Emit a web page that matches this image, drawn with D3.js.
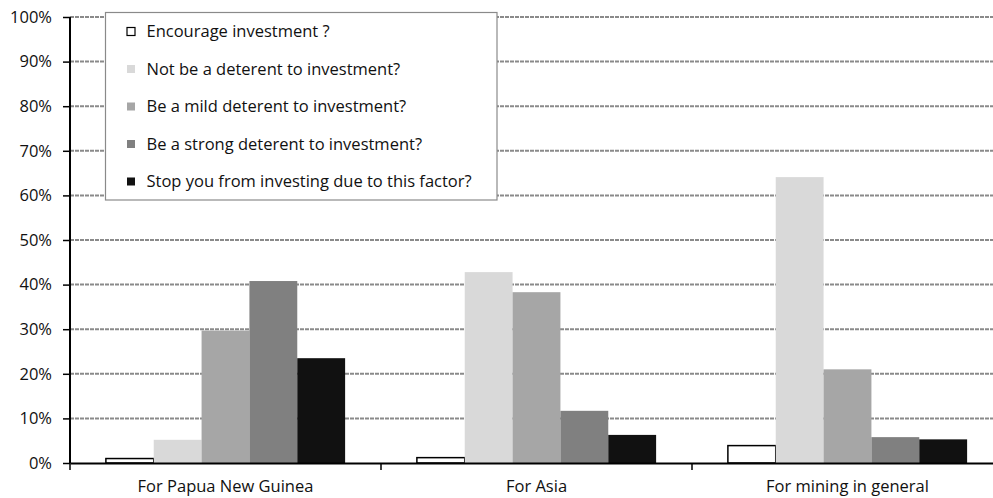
<!DOCTYPE html>
<html>
<head>
<meta charset="utf-8">
<script src="https://cdn.jsdelivr.net/npm/d3@7"></script>
<style>
  html, body { margin: 0; padding: 0; background: #fff; overflow: hidden; }
  svg { display: block; }
  text { font-family: "Open Sans", "Noto Sans", sans-serif; fill: #111; }
</style>
</head>
<body>
<svg id="chart" width="993" height="498"></svg>
<script>
const categories = ["For Papua New Guinea", "For Asia", "For mining in general"];
const seriesNames = [
  "Encourage investment ?",
  "Not be a deterent to investment?",
  "Be a mild deterent to investment?",
  "Be a strong deterent to investment?",
  "Stop you from investing due to this factor?"
];
const encourage = [1.0, 1.2, 3.9];
const notDeterent = [5.2, 42.8, 64.1];
const mildDeterent = [29.7, 38.3, 21.0];
const strongDeterent = [40.8, 11.7, 5.8];
const stopInvesting = [23.5, 6.3, 5.3];
const seriesValues = [encourage, notDeterent, mildDeterent, strongDeterent, stopInvesting];
const yTicks = [0, 10, 20, 30, 40, 50, 60, 70, 80, 90, 100];
const colors = ["#ffffff", "#d9d9d9", "#a6a6a6", "#808080", "#111111"];

const svg = d3.select("#chart");
const x0 = 70, x1 = 1003, yTop = 17, yBot = 463;
const fs = "16.5px";

const x = d3.scaleBand().domain(categories).range([x0, x1]).paddingInner(0).paddingOuter(0);
const xs = d3.scaleBand().domain(d3.range(seriesNames.length)).range([0, x.bandwidth()]).paddingInner(0).paddingOuter(0.75);
const y = d3.scaleLinear().domain([0, 100]).range([yBot, yTop]);

// gridlines
svg.append("g").selectAll("line").data(yTicks.filter(d => d > 0)).join("line")
  .attr("x1", x0).attr("x2", 993)
  .attr("y1", d => y(d)).attr("y2", d => y(d))
  .attr("stroke", "#8a8a8a").attr("stroke-width", 2).attr("stroke-dasharray", "4,1");

// bars
const groups = svg.append("g").selectAll("g").data(categories).join("g")
  .attr("transform", d => `translate(${x(d)},0)`);
groups.selectAll("rect").data((c, ci) => seriesValues.map((vals, si) => ({si, v: vals[ci]}))).join("rect")
  .attr("x", d => xs(d.si))
  .attr("width", xs.bandwidth())
  .attr("y", d => y(d.v))
  .attr("height", d => yBot - y(d.v))
  .attr("fill", d => colors[d.si])
  .attr("stroke", d => d.si === 0 ? "#000" : "none")
  .attr("stroke-width", 1.5);

// y axis
const yAxis = d3.axisLeft(y).tickValues(yTicks).tickFormat(d => d + "%").tickSize(7).tickPadding(11);
const gy = svg.append("g").attr("transform", `translate(${x0},0)`).call(yAxis);
gy.select(".domain").attr("stroke", "#000").attr("stroke-width", 2).attr("d", `M0,${yTop}V${yBot}`);
gy.selectAll(".tick line").attr("stroke", "#000").attr("stroke-width", 1.5);
gy.selectAll(".tick text").style("font-size", fs).style("font-family", "'Open Sans', sans-serif").attr("fill", "#111");

// x axis
const xAxis = d3.axisBottom(x).tickSize(0).tickPadding(17);
const gx = svg.append("g").attr("transform", `translate(0,${yBot})`).call(xAxis);
gx.select(".domain").attr("stroke", "#000").attr("stroke-width", 2);
gx.selectAll(".tick text").style("font-size", fs).style("font-family", "'Open Sans', sans-serif").attr("fill", "#111");
// category boundary ticks
const bounds = categories.map(c => x(c)).concat([x1]);
gx.append("g").selectAll("line").data(bounds).join("line")
  .attr("x1", d => d).attr("x2", d => d).attr("y1", 0).attr("y2", 7)
  .attr("stroke", "#000").attr("stroke-width", 1.5);

// legend
const lg = svg.append("g");
lg.append("rect").attr("x", 105.5).attr("y", 12.5).attr("width", 391.5).attr("height", 187.5)
  .attr("fill", "#fff").attr("stroke", "#8a8a8a").attr("stroke-width", 1.2);
const items = lg.selectAll("g.item").data(seriesNames).join("g").attr("class", "item")
  .attr("transform", (d, i) => `translate(0,${31.5 + i * 37.5})`);
items.append("rect").attr("x", 127).attr("y", -4).attr("width", 8).attr("height", 8)
  .attr("fill", (d, i) => colors[i])
  .attr("stroke", (d, i) => i === 0 ? "#000" : "none").attr("stroke-width", 1.2);
items.append("text").attr("x", 146.5).attr("y", 0).attr("dy", "0.35em")
  .style("font-size", fs).text(d => d);
</script>
</body>
</html>
